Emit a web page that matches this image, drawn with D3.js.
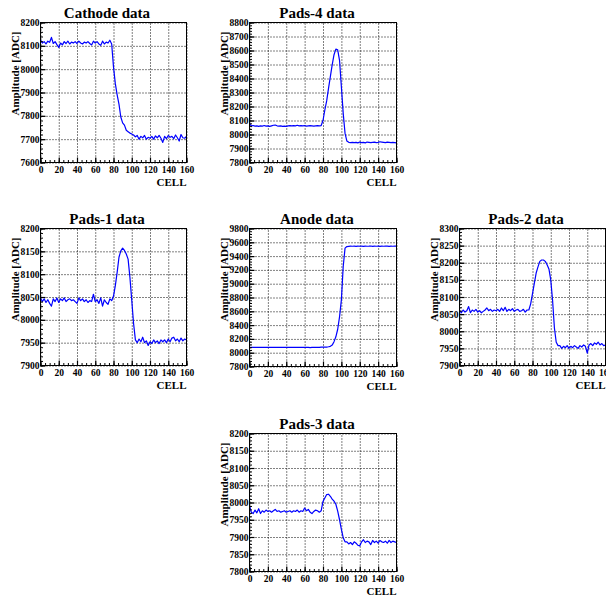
<!DOCTYPE html>
<html>
<head>
<meta charset="utf-8">
<script src="https://cdn.jsdelivr.net/npm/d3@7"></script>
<style>
  html, body { margin: 0; padding: 0; background: #fff; }
  svg text { font-family: "Liberation Serif", "DejaVu Serif", serif !important; font-weight: bold; fill: #000; }
</style>
</head>
<body>
<div id="chart"></div>
<script>
// cell index of every sample (every second cell)
const cells = [0,2,4,6,8,10,12,14,16,18,20,22,24,26,28,30,32,34,36,38,40,42,44,46,48,50,52,54,56,58,60,62,64,66,68,70,72,74,76,78,80,82,84,86,88,90,92,94,96,98,100,102,104,106,108,110,112,114,116,118,120,122,124,126,128,130,132,134,136,138,140,142,144,146,148,150,152,154,156,158,160];

const titles = ['Cathode data', 'Pads-4 data', 'Pads-1 data', 'Anode data', 'Pads-2 data', 'Pads-3 data'];
const xTicks = [0, 20, 40, 60, 80, 100, 120, 140, 160];

// amplitudes, one value per entry of cells
const cathodeAdc = [8126,8112,8118,8108,8120,8115,8136,8110,8118,8105,8093,8112,8104,8118,8110,8120,8108,8116,8112,8118,
  8110,8120,8112,8108,8116,8112,8118,8110,8104,8120,8112,8118,8108,8102,8120,8108,8116,8112,8124,8108,
  8010,7938,7890,7850,7795,7770,7760,7738,7732,7726,7722,7718,7710,7716,7700,7712,7706,7716,7700,7708,
  7704,7712,7700,7714,7706,7716,7704,7686,7712,7702,7716,7708,7712,7702,7718,7706,7692,7720,7706,7704,7712];

const pads4Adc = [8078,8062,8064,8060,8062,8058,8062,8060,8064,8060,8062,8058,8062,8066,8068,8062,8060,8062,8058,8060,
  8058,8062,8064,8062,8064,8062,8066,8062,8064,8062,8064,8060,8062,8064,8062,8060,8062,8064,8062,8064,
  8100,8175,8240,8330,8413,8497,8570,8610,8605,8530,8341,8151,8008,7953,7944,7942,7944,7942,7944,7940,
  7946,7942,7944,7940,7946,7944,7942,7944,7946,7942,7944,7948,7946,7944,7942,7946,7944,7942,7944,7942,7940];

const pads1Adc = [8048,8040,8046,8038,8044,8036,8030,8046,8040,8048,8038,8046,8042,8048,8040,8044,8046,8042,8044,8040,
  8036,8048,8042,8046,8040,8044,8038,8042,8040,8056,8040,8044,8036,8048,8030,8044,8038,8034,8046,8042,
  8052,8075,8104,8137,8151,8157,8152,8144,8133,8093,8043,7992,7956,7950,7958,7952,7962,7950,7954,7944,
  7952,7948,7956,7950,7954,7948,7956,7952,7956,7950,7958,7952,7960,7962,7954,7958,7952,7960,7954,7958,7956];

const anodeAdc = [8078,8076,8078,8077,8076,8078,8077,8078,8076,8078,8077,8078,8076,8077,8078,8076,8078,8077,8076,8078,
  8077,8078,8076,8078,8077,8076,8078,8077,8078,8076,8077,8078,8076,8074,8076,8078,8077,8076,8078,8080,
  8080,8080,8082,8086,8092,8110,8160,8230,8340,8520,8766,9249,9515,9538,9542,9544,9543,9544,9542,9544,
  9543,9544,9542,9545,9543,9544,9546,9542,9544,9543,9544,9542,9544,9543,9545,9544,9542,9544,9543,9544,9544];

const pads2Adc = [8060,8054,8062,8056,8060,8072,8054,8062,8058,8064,8056,8060,8054,8058,8062,8068,8060,8064,8058,8062,
  8060,8064,8058,8068,8060,8070,8058,8064,8060,8066,8058,8062,8064,8058,8060,8064,8056,8062,8062,8080,
  8110,8140,8170,8188,8204,8208,8208,8204,8194,8182,8150,8090,8010,7968,7958,7958,7950,7956,7952,7958,
  7950,7956,7952,7958,7954,7950,7958,7954,7960,7956,7936,7960,7964,7958,7966,7962,7968,7960,7964,7958,7960];

const pads3Adc = [7990,7972,7968,7978,7970,7982,7968,7976,7972,7978,7974,7976,7972,7976,7980,7974,7976,7972,7974,7976,
  7972,7974,7976,7972,7976,7974,7978,7972,7976,7974,7984,7976,7980,7972,7968,7974,7978,7976,7972,7976,
  8003,8013,8023,8024,8018,8010,8004,7995,7975,7950,7922,7898,7886,7886,7880,7884,7878,7886,7882,7876,
  7874,7886,7892,7884,7888,7886,7878,7890,7884,7888,7882,7890,7886,7884,7888,7882,7890,7884,7888,7886,7884];

const series = [cathodeAdc, pads4Adc, pads1Adc, anodeAdc, pads2Adc, pads3Adc];

// frame boxes (pixels) and y ranges of each pad
const pads = [
  { x0: 40.5, x1: 186.5, y0: 22.5, y1: 162.5, yMin: 7600, yMax: 8200, yStep: 100, titleX: 107 },
  { x0: 249.5, x1: 396.5, y0: 22.5, y1: 162.5, yMin: 7800, yMax: 8800, yStep: 100, titleX: 317 },
  { x0: 40.5, x1: 186.5, y0: 228.5, y1: 365.5, yMin: 7900, yMax: 8200, yStep: 50, titleX: 107 },
  { x0: 249.5, x1: 396.5, y0: 228.5, y1: 366.5, yMin: 7800, yMax: 9800, yStep: 200, titleX: 317 },
  { x0: 459.5, x1: 605.5, y0: 228.5, y1: 365.5, yMin: 7900, yMax: 8300, yStep: 50, titleX: 526 },
  { x0: 249.5, x1: 396.5, y0: 433.5, y1: 571.5, yMin: 7800, yMax: 8200, yStep: 50, titleX: 317 }
];

const svg = d3.select('#chart')
  .append('svg')
  .attr('width', 606)
  .attr('height', 596);

svg.append('rect').attr('width', 606).attr('height', 596).attr('fill', '#fff');

function styleGrid(a) {
  a.select('.domain').remove();
  a.selectAll('line')
    .attr('stroke', '#000')
    .attr('stroke-width', 1)
    .attr('stroke-dasharray', '1,2');
}

function drawPad(p, i) {
  const xScale = d3.scaleLinear().domain([0, 160]).range([p.x0, p.x1]);
  const yScale = d3.scaleLinear().domain([p.yMin, p.yMax]).range([p.y1, p.y0]);
  const w = p.x1 - p.x0;
  const h = p.y1 - p.y0;
  const yMajor = d3.range(p.yMin, p.yMax + 1, p.yStep);
  const yMinor = d3.range(p.yMin, p.yMax + 1, p.yStep / 5);
  const xMinor = d3.range(0, 161, 5);

  const g = svg.append('g').attr('class', 'pad');

  // dotted grid
  g.append('g')
    .attr('transform', `translate(0,${p.y1})`)
    .call(d3.axisBottom(xScale).tickValues(xTicks).tickSize(-h).tickFormat(''))
    .call(styleGrid);
  g.append('g')
    .attr('transform', `translate(${p.x0},0)`)
    .call(d3.axisLeft(yScale).tickValues(yMajor).tickSize(-w).tickFormat(''))
    .call(styleGrid);

  // data line
  const line = d3.line()
    .x((d, k) => xScale(cells[k]))
    .y(d => yScale(d));
  g.append('path')
    .datum(series[i])
    .attr('fill', 'none')
    .attr('stroke', '#0000ff')
    .attr('stroke-width', 1.2)
    .attr('stroke-linejoin', 'round')
    .attr('d', line);

  // frame
  g.append('rect')
    .attr('x', p.x0).attr('y', p.y0)
    .attr('width', w).attr('height', h)
    .attr('fill', 'none')
    .attr('stroke', '#000')
    .attr('stroke-width', 1);

  // minor ticks (inside)
  g.append('g')
    .attr('transform', `translate(0,${p.y1})`)
    .call(d3.axisBottom(xScale).tickValues(xMinor).tickSize(-2.5).tickFormat(''))
    .call(a => { a.select('.domain').remove(); a.selectAll('line').attr('stroke', '#000'); });
  g.append('g')
    .attr('transform', `translate(${p.x0},0)`)
    .call(d3.axisLeft(yScale).tickValues(yMinor).tickSize(-2.5).tickFormat(''))
    .call(a => { a.select('.domain').remove(); a.selectAll('line').attr('stroke', '#000'); });

  // major ticks + labels
  const xAxis = g.append('g')
    .attr('transform', `translate(0,${p.y1})`)
    .call(d3.axisBottom(xScale).tickValues(xTicks).tickSize(-5).tickPadding(4).tickFormat(d3.format('d')));
  xAxis.select('.domain').remove();
  xAxis.attr('font-family', null);
  xAxis.selectAll('line').attr('stroke', '#000').attr('stroke-width', 1.2);
  xAxis.selectAll('text').attr('fill', '#000').style('font-size', '9.5px');

  const yAxis = g.append('g')
    .attr('transform', `translate(${p.x0},0)`)
    .call(d3.axisLeft(yScale).tickValues(yMajor).tickSize(-5).tickPadding(1).tickFormat(d3.format('d')));
  yAxis.select('.domain').remove();
  yAxis.attr('font-family', null);
  yAxis.selectAll('line').attr('stroke', '#000').attr('stroke-width', 1.2);
  yAxis.selectAll('text').attr('fill', '#000').style('font-size', '9.5px');

  // titles
  g.append('text')
    .attr('x', p.titleX)
    .attr('y', p.y0 - 5)
    .attr('text-anchor', 'middle')
    .style('font-size', '15px')
    .text(titles[i]);

  g.append('text')
    .attr('x', p.x1)
    .attr('y', p.y1 + 23)
    .attr('text-anchor', 'end')
    .style('font-size', '11px')
    .text('CELL');

  g.append('text')
    .attr('transform', `translate(${p.x0 - 22},${p.y0 + 9}) rotate(-90)`)
    .attr('text-anchor', 'end')
    .style('font-size', '11px')
    .text('Amplitude [ADC]');
}

pads.forEach(drawPad);
</script>
</body>
</html>
